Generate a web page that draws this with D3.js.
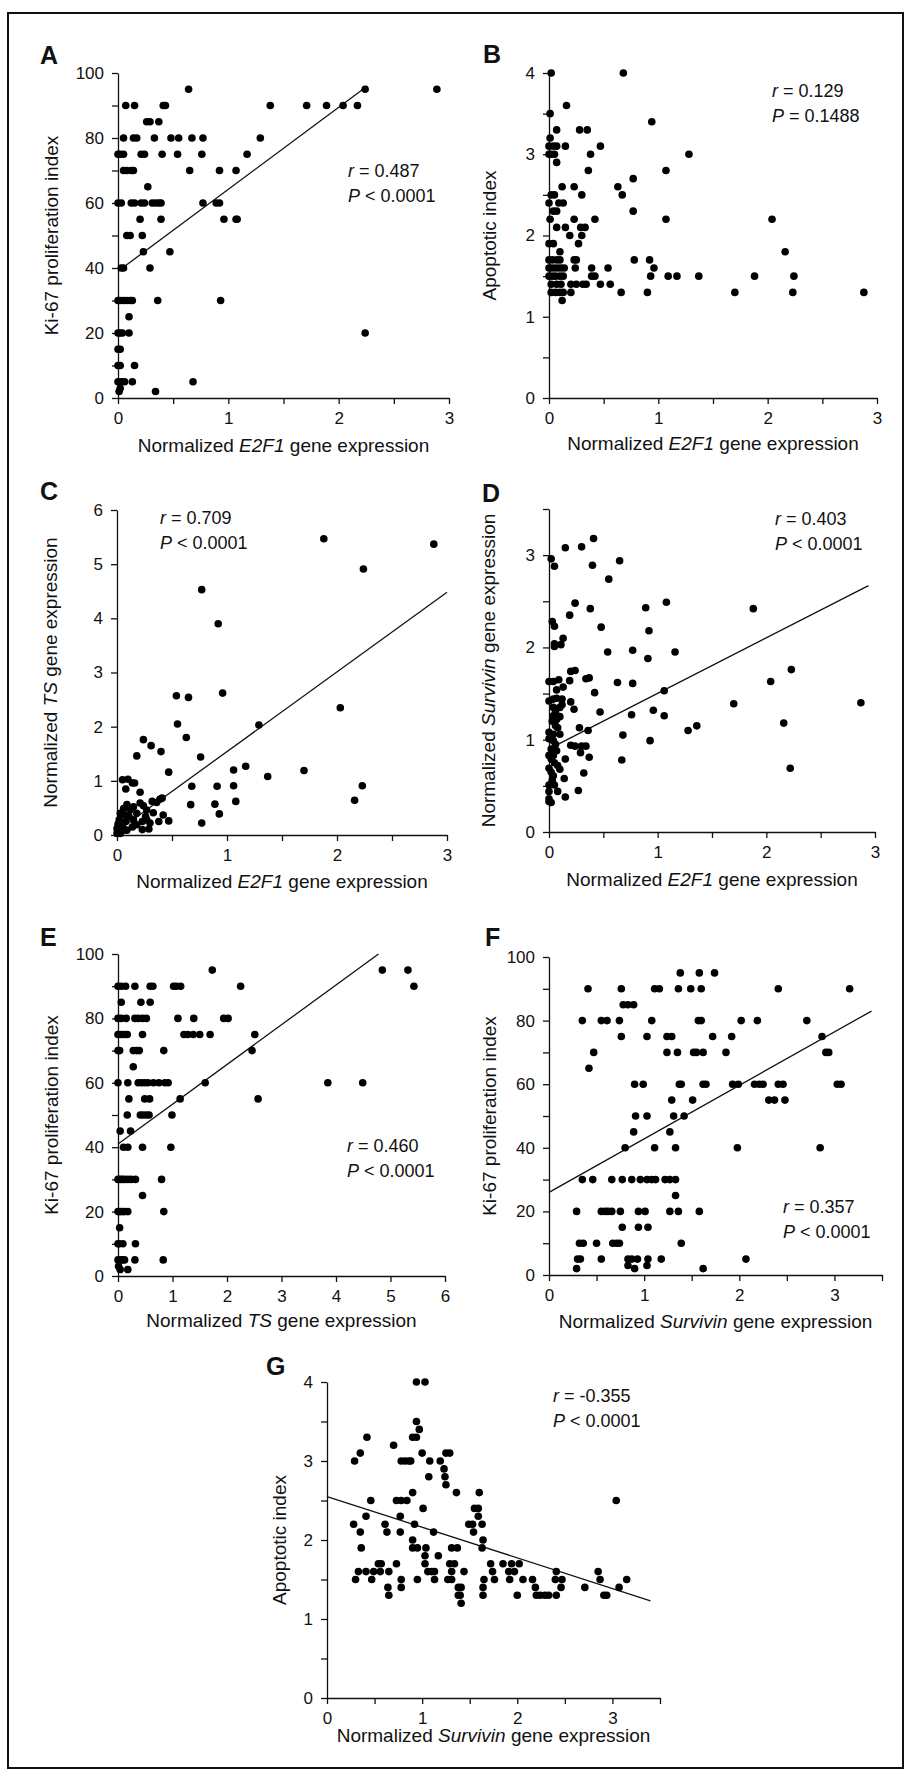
<!DOCTYPE html>
<html lang="en">
<head>
<meta charset="utf-8">
<title>E2F1, TS, Survivin, Ki-67 and apoptosis correlations</title>
<script src="https://cdnjs.cloudflare.com/ajax/libs/d3/7.8.5/d3.min.js"></script>
<style type="text/css">
  body { margin: 0; background: #fff; }
  svg text { font-family: "Liberation Sans", Arial, Helvetica, sans-serif; fill: #111; }
  .axis text { font-size: 17px; }
  .axis path, .axis line { stroke: #111; stroke-width: 1.3px; }
  .title { font-size: 19px; }
  .stat { font-size: 18px; }
  .letter { font-size: 25px; font-weight: bold; }
</style>
</head>
<body>
<div id="figure"></div>
<script type="text/javascript">

const width = 905;
const height = 1778;

// ---- values: [x, y] pairs ----
// A: E2F1 vs Ki-67
const ki67VsE2f1 = [
  [0.64,95],[2.24,95],[2.89,95],
  [0.07,90],[0.15,90],[0.41,90],[0.43,90],[1.38,90],[1.71,90],[1.89,90],[2.04,90],[2.17,90],
  [0.26,85],[0.29,85],[0.37,85],
  [0.05,80],[0.14,80],[0.17,80],[0.33,80],[0.48,80],[0.55,80],[0.67,80],[0.77,80],[1.29,80],
  [0.0,75],[0.02,75],[0.05,75],[0.21,75],[0.24,75],[0.40,75],[0.54,75],[0.76,75],[1.17,75],
  [0.05,70],[0.08,70],[0.12,70],[0.14,70],[0.65,70],[0.92,70],[1.07,70],
  [0.27,65],
  [0.0,60],[0.03,60],[0.12,60],[0.15,60],[0.21,60],[0.24,60],[0.31,60],[0.34,60],[0.37,60],[0.39,60],[0.77,60],[0.89,60],[0.92,60],
  [0.20,55],[0.39,55],[0.96,55],[1.07,55],[1.08,55],
  [0.08,50],[0.11,50],[0.22,50],
  [0.23,45],[0.47,45],
  [0.03,40],[0.05,40],[0.29,40],
  [0.0,30],[0.02,30],[0.05,30],[0.08,30],[0.11,30],[0.13,30],[0.36,30],[0.93,30],
  [0.10,25],
  [0.0,20],[0.02,20],[0.04,20],[0.10,20],[2.24,20],
  [0.0,15],[0.02,15],
  [0.0,10],[0.02,10],[0.15,10],
  [0.0,5],[0.03,5],[0.06,5],[0.13,5],[0.68,5],
  [0.02,3],[0.01,2],[0.34,2]
];

// B: E2F1 vs apoptotic index
const apoVsE2f1 = [
  [0.02,4.0],[0.68,4.0],[0.16,3.6],[0.01,3.5],[0.94,3.4],
  [0.07,3.3],[0.28,3.3],[0.35,3.3],[0.01,3.2],
  [0.0,3.1],[0.04,3.1],[0.07,3.1],[0.15,3.1],[0.47,3.1],
  [0.0,3.0],[0.02,3.0],[0.05,3.0],[0.38,3.0],[1.28,3.0],
  [0.07,2.9],[0.36,2.8],[1.07,2.8],[0.77,2.7],
  [0.12,2.6],[0.23,2.6],[0.63,2.6],
  [0.02,2.5],[0.05,2.5],[0.30,2.5],[0.67,2.5],
  [0.0,2.4],[0.09,2.4],[0.13,2.4],
  [0.04,2.3],[0.07,2.3],[0.77,2.3],
  [0.01,2.2],[0.23,2.2],[0.42,2.2],[1.07,2.2],[2.04,2.2],
  [0.07,2.1],[0.15,2.1],[0.29,2.1],[0.33,2.1],
  [0.19,2.0],[0.30,2.0],
  [0.0,1.9],[0.04,1.9],[0.27,1.9],
  [0.10,1.8],[2.16,1.8],
  [0.0,1.7],[0.03,1.7],[0.07,1.7],[0.10,1.7],[0.23,1.7],[0.25,1.7],[0.78,1.7],[0.92,1.7],
  [0.0,1.6],[0.02,1.6],[0.05,1.6],[0.08,1.6],[0.11,1.6],[0.14,1.6],[0.24,1.6],[0.39,1.6],[0.54,1.6],[0.96,1.6],
  [0.0,1.5],[0.03,1.5],[0.06,1.5],[0.10,1.5],[0.13,1.5],[0.39,1.5],[0.42,1.5],[0.93,1.5],[1.09,1.5],[1.17,1.5],[1.37,1.5],[1.88,1.5],[2.24,1.5],
  [0.02,1.4],[0.07,1.4],[0.11,1.4],[0.20,1.4],[0.25,1.4],[0.31,1.4],[0.34,1.4],[0.47,1.4],[0.56,1.4],
  [0.02,1.3],[0.06,1.3],[0.10,1.3],[0.13,1.3],[0.20,1.3],[0.66,1.3],[0.90,1.3],[1.70,1.3],[2.23,1.3],[2.88,1.3],
  [0.12,1.2]
];

// C: E2F1 vs TS
const tsVsE2f1 = [
  [1.88,5.47],[2.88,5.37],[2.24,4.91],[0.77,4.53],[0.92,3.90],
  [0.54,2.57],[0.65,2.54],[0.96,2.62],[2.03,2.35],[0.55,2.05],[1.29,2.03],[0.63,1.80],
  [0.24,1.76],[0.31,1.65],[0.40,1.54],[0.18,1.46],[0.76,1.44],
  [1.17,1.27],[1.06,1.20],[1.70,1.19],[1.37,1.08],[0.47,1.16],
  [0.05,1.02],[0.10,1.03],[0.14,0.96],[0.16,0.96],[0.08,0.85],
  [0.68,0.90],[0.91,0.90],[1.06,0.91],[2.23,0.91],
  [0.21,0.79],[1.08,0.62],[2.16,0.64],[0.67,0.56],[0.89,0.57],[0.93,0.39],[0.77,0.22],
  [0.39,0.66],[0.41,0.68],[0.36,0.60],[0.33,0.41],[0.42,0.37],[0.47,0.26],[0.38,0.25],
  [0.30,0.22],[0.29,0.11],[0.23,0.25],[0.21,0.59],[0.24,0.54],[0.27,0.46],[0.26,0.34],
  [0.23,0.10],[0.18,0.40],[0.15,0.28],[0.14,0.15],[0.09,0.56],[0.06,0.49],[0.03,0.40],
  [0.11,0.34],[0.08,0.25],[0.05,0.15],[0.02,0.09],[0.0,0.03],[0.03,0.03],[0.06,0.09],
  [0.0,0.12],[0.09,0.09],[0.12,0.46],[0.02,0.28],[0.15,0.52],[0.07,0.37],[0.01,0.20],
  [0.18,0.19],[0.27,0.28],[0.32,0.62]
];

// D: E2F1 vs Survivin
const survivinVsE2f1 = [
  [0.02,2.96],[0.05,2.88],[0.15,3.08],[0.30,3.09],[0.41,3.18],[0.40,2.89],[0.65,2.94],[0.55,2.74],
  [0.24,2.48],[0.38,2.42],[0.89,2.43],[1.08,2.49],[1.88,2.42],[0.19,2.35],[0.03,2.28],[0.05,2.23],
  [0.48,2.22],[0.92,2.18],[0.13,2.10],[0.11,2.03],[0.05,2.04],[0.05,2.01],
  [0.54,1.95],[0.77,1.97],[0.91,1.88],[1.16,1.95],[0.20,1.74],[0.24,1.75],
  [0.0,1.63],[0.04,1.63],[0.09,1.65],[0.19,1.64],[0.34,1.66],[0.37,1.67],[0.63,1.62],[0.77,1.61],
  [2.23,1.76],[2.04,1.63],[0.07,1.54],[0.13,1.57],[0.42,1.51],[1.06,1.53],
  [0.0,1.42],[0.04,1.44],[0.07,1.45],[0.12,1.44],[0.20,1.41],[0.23,1.33],[0.04,1.35],[0.10,1.35],
  [1.70,1.39],[2.87,1.40],[0.47,1.30],[0.96,1.32],[1.06,1.26],[0.76,1.27],[0.04,1.26],[0.07,1.22],
  [0.28,1.13],[0.36,1.10],[2.16,1.18],[1.36,1.15],[1.28,1.10],
  [0.0,1.08],[0.04,1.06],[0.08,1.13],[0.10,1.06],[0.68,1.05],[0.93,0.99],
  [0.0,1.01],[0.04,0.99],[0.06,0.95],[0.20,0.94],[0.24,0.93],[0.30,0.93],[0.34,0.93],
  [0.29,0.86],[0.37,0.81],[0.15,0.79],[0.0,0.83],[0.04,0.83],[0.02,0.79],
  [0.67,0.78],[2.22,0.69],[0.0,0.69],[0.02,0.65],[0.10,0.68],[0.32,0.64],
  [0.04,0.61],[0.14,0.58],[0.0,0.51],[0.05,0.51],[0.08,0.44],[0.27,0.45],[0.15,0.38],
  [0.0,0.44],[0.0,0.36],[0.0,0.33],[0.02,0.32],
  [0.03,1.20],[0.06,1.15],[0.02,0.90],[0.07,0.88],[0.05,0.75],[0.08,0.72],[0.03,0.56],
  [0.06,1.30],[0.10,1.25],[0.12,1.38]
];

// E: TS vs Ki-67
const ki67VsTs = [
  [1.73,95],[4.85,95],[5.32,95],
  [0.0,90],[0.06,90],[0.14,90],[0.31,90],[0.59,90],[0.64,90],[1.02,90],[1.07,90],[1.15,90],[2.25,90],[5.43,90],
  [0.06,85],[0.42,85],[0.59,85],
  [0.0,80],[0.06,80],[0.15,80],[0.31,80],[0.37,80],[0.45,80],[0.52,80],[1.10,80],[1.39,80],[1.94,80],[2.02,80],
  [0.0,75],[0.06,75],[0.12,75],[0.17,75],[0.45,75],[1.21,75],[1.28,75],[1.38,75],[1.50,75],[1.69,75],[2.51,75],
  [0.0,70],[0.03,70],[0.28,70],[0.34,70],[0.39,70],[0.84,70],[2.46,70],
  [0.28,65],
  [0.0,60],[0.18,60],[0.37,60],[0.43,60],[0.49,60],[0.55,60],[0.65,60],[0.75,60],[0.86,60],[0.92,60],[1.60,60],[3.85,60],[4.49,60],
  [0.20,55],[0.49,55],[0.58,55],[1.14,55],[2.57,55],
  [0.17,50],[0.41,50],[0.46,50],[0.52,50],[0.57,50],[0.99,50],
  [0.04,45],[0.23,45],
  [0.10,40],[0.18,40],[0.45,40],[0.97,40],
  [0.0,30],[0.04,30],[0.08,30],[0.12,30],[0.18,30],[0.24,30],[0.32,30],[0.80,30],
  [0.45,25],
  [0.0,20],[0.04,20],[0.08,20],[0.12,20],[0.18,20],[0.84,20],
  [0.03,15],
  [0.0,10],[0.02,10],[0.09,10],[0.32,10],
  [0.0,5],[0.04,5],[0.08,5],[0.12,5],[0.31,5],[0.83,5],
  [0.01,3],[0.04,2],[0.18,2]
];

// F: Survivin vs Ki-67
const ki67VsSurvivin = [
  [1.38,95],[1.58,95],[1.74,95],
  [0.41,90],[0.76,90],[1.11,90],[1.16,90],[1.36,90],[1.49,90],[1.60,90],[2.41,90],[3.16,90],
  [0.78,85],[0.83,85],[0.89,85],
  [0.35,80],[0.55,80],[0.61,80],[0.74,80],[1.08,80],[1.57,80],[1.60,80],[2.02,80],[2.19,80],[2.71,80],
  [0.76,75],[1.03,75],[1.24,75],[1.29,75],[1.72,75],[1.92,75],[2.87,75],
  [0.47,70],[1.24,70],[1.35,70],[1.52,70],[1.55,70],[1.62,70],[1.86,70],[2.91,70],[2.94,70],
  [0.42,65],
  [0.90,60],[0.99,60],[1.37,60],[1.39,60],[1.62,60],[1.65,60],[1.93,60],[1.99,60],[2.16,60],[2.21,60],[2.25,60],[2.41,60],[2.46,60],[3.03,60],[3.07,60],
  [1.29,55],[1.51,55],[2.31,55],[2.37,55],[2.48,55],
  [0.91,50],[1.03,50],[1.31,50],[1.42,50],
  [0.89,45],[1.27,45],
  [0.80,40],[1.11,40],[1.33,40],[1.98,40],[2.85,40],
  [0.35,30],[0.46,30],[0.66,30],[0.77,30],[0.87,30],[0.96,30],[1.03,30],[1.08,30],[1.12,30],[1.22,30],[1.27,30],[1.33,30],
  [1.33,25],
  [0.29,20],[0.55,20],[0.59,20],[0.62,20],[0.66,20],[0.75,20],[0.94,20],[1.01,20],[1.27,20],[1.36,20],[1.58,20],
  [0.77,15],[0.94,15],[1.04,15],
  [0.32,10],[0.36,10],[0.50,10],[0.67,10],[0.71,10],[0.74,10],[1.39,10],
  [0.30,5],[0.33,5],[0.55,5],[0.83,5],[0.87,5],[0.93,5],[1.04,5],[1.18,5],[2.07,5],
  [0.83,3],[1.03,3],[0.29,2],[0.90,2],[1.62,2]
];

// G: Survivin vs apoptotic index
const apoVsSurvivin = [
  [0.94,4.0],[1.03,4.0],[0.94,3.5],[0.97,3.4],
  [0.42,3.3],[0.90,3.3],[0.94,3.3],[0.70,3.2],
  [0.35,3.1],[1.0,3.1],[1.25,3.1],[1.29,3.1],
  [0.29,3.0],[0.78,3.0],[0.82,3.0],[0.86,3.0],[0.88,3.0],[1.08,3.0],[1.19,3.0],
  [1.23,2.9],[1.07,2.8],[1.24,2.8],[1.25,2.7],
  [0.90,2.6],[1.36,2.6],[1.60,2.6],
  [0.46,2.5],[0.73,2.5],[0.78,2.5],[0.84,2.5],[3.04,2.5],
  [1.01,2.4],[1.55,2.4],[1.59,2.4],
  [0.41,2.3],[0.77,2.3],[1.59,2.3],
  [0.28,2.2],[0.61,2.2],[0.92,2.2],[1.49,2.2],[1.53,2.2],[1.63,2.2],
  [0.35,2.1],[0.63,2.1],[0.77,2.1],[1.12,2.1],[1.54,2.1],
  [0.90,2.0],[1.64,2.0],
  [0.36,1.9],[0.90,1.9],[0.95,1.9],[1.04,1.9],[1.31,1.9],[1.37,1.9],[1.63,1.9],
  [1.03,1.8],[1.17,1.8],
  [0.54,1.7],[0.57,1.7],[0.73,1.7],[1.03,1.7],[1.29,1.7],[1.34,1.7],[1.72,1.7],[1.85,1.7],[1.94,1.7],[2.02,1.7],
  [0.33,1.6],[0.41,1.6],[0.49,1.6],[0.56,1.6],[0.65,1.6],[1.06,1.6],[1.10,1.6],[1.13,1.6],[1.31,1.6],[1.44,1.6],[1.74,1.6],[1.91,1.6],[1.97,1.6],[2.41,1.6],[2.85,1.6],
  [0.30,1.5],[0.47,1.5],[0.78,1.5],[0.95,1.5],[1.13,1.5],[1.27,1.5],[1.31,1.5],[1.65,1.5],[1.76,1.5],[1.92,1.5],[2.06,1.5],[2.16,1.5],[2.40,1.5],[2.47,1.5],[2.87,1.5],[3.15,1.5],
  [0.64,1.4],[0.78,1.4],[1.38,1.4],[1.41,1.4],[1.64,1.4],[2.19,1.4],[2.46,1.4],[2.71,1.4],[3.07,1.4],
  [0.65,1.3],[1.38,1.3],[1.40,1.3],[1.64,1.3],[2.0,1.3],[2.20,1.3],[2.24,1.3],[2.29,1.3],[2.33,1.3],[2.41,1.3],[2.91,1.3],[2.94,1.3],
  [1.41,1.2]
];

// regression line end points
const fitA = [[0, 39], [2.26, 96]];
const fitC = [[0, 0.07], [3, 4.48]];
const fitD = [[0.05, 0.93], [2.94, 2.67]];
const fitE = [[0, 41], [4.78, 100]];
const fitF = [[0, 26], [3.39, 83]];
const fitG = [[0, 2.55], [3.4, 1.23]];

// statistics printed on each panel
const rValues = ["0.487", "0.129", "0.709", "0.403", "0.460", "0.357", "-0.355"];
const pValues = ["< 0.0001", "= 0.1488", "< 0.0001", "< 0.0001", "< 0.0001", "< 0.0001", "< 0.0001"];

// axis titles, [text, italic]
const titleE2f1 = [["Normalized ", false], ["E2F1", true], [" gene expression", false]];
const titleTs = [["Normalized ", false], ["TS", true], [" gene expression", false]];
const titleSurvivin = [["Normalized ", false], ["Survivin", true], [" gene expression", false]];
const titleKi67 = [["Ki-67 proliferation index", false]];
const titleApo = [["Apoptotic index", false]];

// ---- layout of each panel (pixel positions) ----
const panels = [
  {letter: "A", data: ki67VsE2f1, fit: fitA, xMax: 3, xStep: 0.5, xEvery: 1, yMax: 100, yStep: 10, yEvery: 20,
   left: 118, right: 449, top: 73, bottom: 398, lx: 40, ly: 64, yOff: 60, xOff: 54,
   xTitle: titleE2f1, yTitle: titleKi67, sx: 348, sy: 177},
  {letter: "B", data: apoVsE2f1, fit: null, xMax: 3, xStep: 0.5, xEvery: 1, yMax: 4, yStep: 0.5, yEvery: 1,
   left: 549, right: 877, top: 73, bottom: 398, lx: 483, ly: 63, yOff: 53, xOff: 52,
   xTitle: titleE2f1, yTitle: titleApo, sx: 772, sy: 97},
  {letter: "C", data: tsVsE2f1, fit: fitC, xMax: 3, xStep: 0.5, xEvery: 1, yMax: 6, yStep: 1, yEvery: 1,
   left: 117, right: 447, top: 510, bottom: 835, lx: 40, ly: 500, yOff: 60, xOff: 53,
   xTitle: titleE2f1, yTitle: titleTs, sx: 160, sy: 524},
  {letter: "D", data: survivinVsE2f1, fit: fitD, xMax: 3, xStep: 0.5, xEvery: 1, yMax: 3.5, yStep: 0.5, yEvery: 1,
   left: 549, right: 875, top: 509, bottom: 832, lx: 482, ly: 502, yOff: 54, xOff: 54,
   xTitle: titleE2f1, yTitle: titleSurvivin, sx: 775, sy: 525},
  {letter: "E", data: ki67VsTs, fit: fitE, xMax: 6, xStep: 1, xEvery: 1, yMax: 100, yStep: 10, yEvery: 20,
   left: 118, right: 445, top: 954, bottom: 1276, lx: 40, ly: 946, yOff: 60, xOff: 51,
   xTitle: titleTs, yTitle: titleKi67, sx: 347, sy: 1152},
  {letter: "F", data: ki67VsSurvivin, fit: fitF, xMax: 3.5, xStep: 0.5, xEvery: 1, yMax: 100, yStep: 10, yEvery: 20,
   left: 549, right: 882, top: 957, bottom: 1275, lx: 485, ly: 946, yOff: 53, xOff: 53,
   xTitle: titleSurvivin, yTitle: titleKi67, sx: 783, sy: 1213},
  {letter: "G", data: apoVsSurvivin, fit: fitG, xMax: 3.5, xStep: 0.5, xEvery: 1, yMax: 4, yStep: 0.5, yEvery: 1,
   left: 327, right: 660, top: 1382, bottom: 1698, lx: 266, ly: 1375, yOff: 41, xOff: 44,
   xTitle: titleSurvivin, yTitle: titleApo, sx: 553, sy: 1402}
];

const svg = d3.select("#figure")
    .append("svg")
    .attr("width", width)
    .attr("height", height);

// outer frame
svg.append("rect")
    .attr("x", 8).attr("y", 13)
    .attr("width", 895).attr("height", 1755)
    .attr("fill", "none")
    .attr("stroke", "#111")
    .attr("stroke-width", 2);

function isMultiple(v, step) {
  return Math.abs(v / step - Math.round(v / step)) < 1e-6;
}

function addParts(text, parts) {
  parts.forEach(p => {
    text.append("tspan")
        .attr("font-style", p[1] ? "italic" : null)
        .text(p[0]);
  });
}

function plotPanel(p, i) {
  const x = d3.scaleLinear().domain([0, p.xMax]).range([p.left, p.right]);
  const y = d3.scaleLinear().domain([0, p.yMax]).range([p.bottom, p.top]);
  const g = svg.append("g").attr("class", "panel");

  const xAxis = d3.axisBottom(x)
      .tickValues(d3.range(0, p.xMax + 1e-9, p.xStep))
      .tickSize(6).tickSizeOuter(0).tickPadding(8)
      .tickFormat(d => isMultiple(d, p.xEvery) ? d3.format("d")(d) : "");
  g.append("g")
      .attr("class", "axis x")
      .attr("transform", `translate(0,${p.bottom})`)
      .call(xAxis);

  const yAxis = d3.axisLeft(y)
      .tickValues(d3.range(0, p.yMax + 1e-9, p.yStep))
      .tickSize(6).tickSizeOuter(0).tickPadding(8)
      .tickFormat(d => isMultiple(d, p.yEvery) ? d3.format("d")(d) : "");
  g.append("g")
      .attr("class", "axis y")
      .attr("transform", `translate(${p.left},0)`)
      .call(yAxis);

  // regression line
  if (p.fit) {
    g.append("line")
        .attr("x1", x(p.fit[0][0])).attr("y1", y(p.fit[0][1]))
        .attr("x2", x(p.fit[1][0])).attr("y2", y(p.fit[1][1]))
        .attr("stroke", "#111")
        .attr("stroke-width", 1.3);
  }

  // points
  g.append("g")
      .selectAll("circle")
      .data(p.data)
      .join("circle")
        .attr("cx", d => x(d[0]))
        .attr("cy", d => y(d[1]))
        .attr("r", 3.8)
        .attr("fill", "#000");

  // panel letter
  g.append("text")
      .attr("class", "letter")
      .attr("x", p.lx).attr("y", p.ly)
      .text(p.letter);

  // axis titles
  const xt = g.append("text")
      .attr("class", "title")
      .attr("text-anchor", "middle")
      .attr("x", (p.left + p.right) / 2)
      .attr("y", p.bottom + p.xOff);
  addParts(xt, p.xTitle);

  const yt = g.append("text")
      .attr("class", "title")
      .attr("text-anchor", "middle")
      .attr("transform", `translate(${p.left - p.yOff},${(p.top + p.bottom) / 2}) rotate(-90)`);
  addParts(yt, p.yTitle);

  // r and P
  const r = g.append("text").attr("class", "stat").attr("x", p.sx).attr("y", p.sy);
  r.append("tspan").attr("font-style", "italic").text("r");
  r.append("tspan").text(" = " + rValues[i]);
  const pv = g.append("text").attr("class", "stat").attr("x", p.sx).attr("y", p.sy + 25);
  pv.append("tspan").attr("font-style", "italic").text("P");
  pv.append("tspan").text(" " + pValues[i]);
}

panels.forEach(plotPanel);

</script>
</body>
</html>
